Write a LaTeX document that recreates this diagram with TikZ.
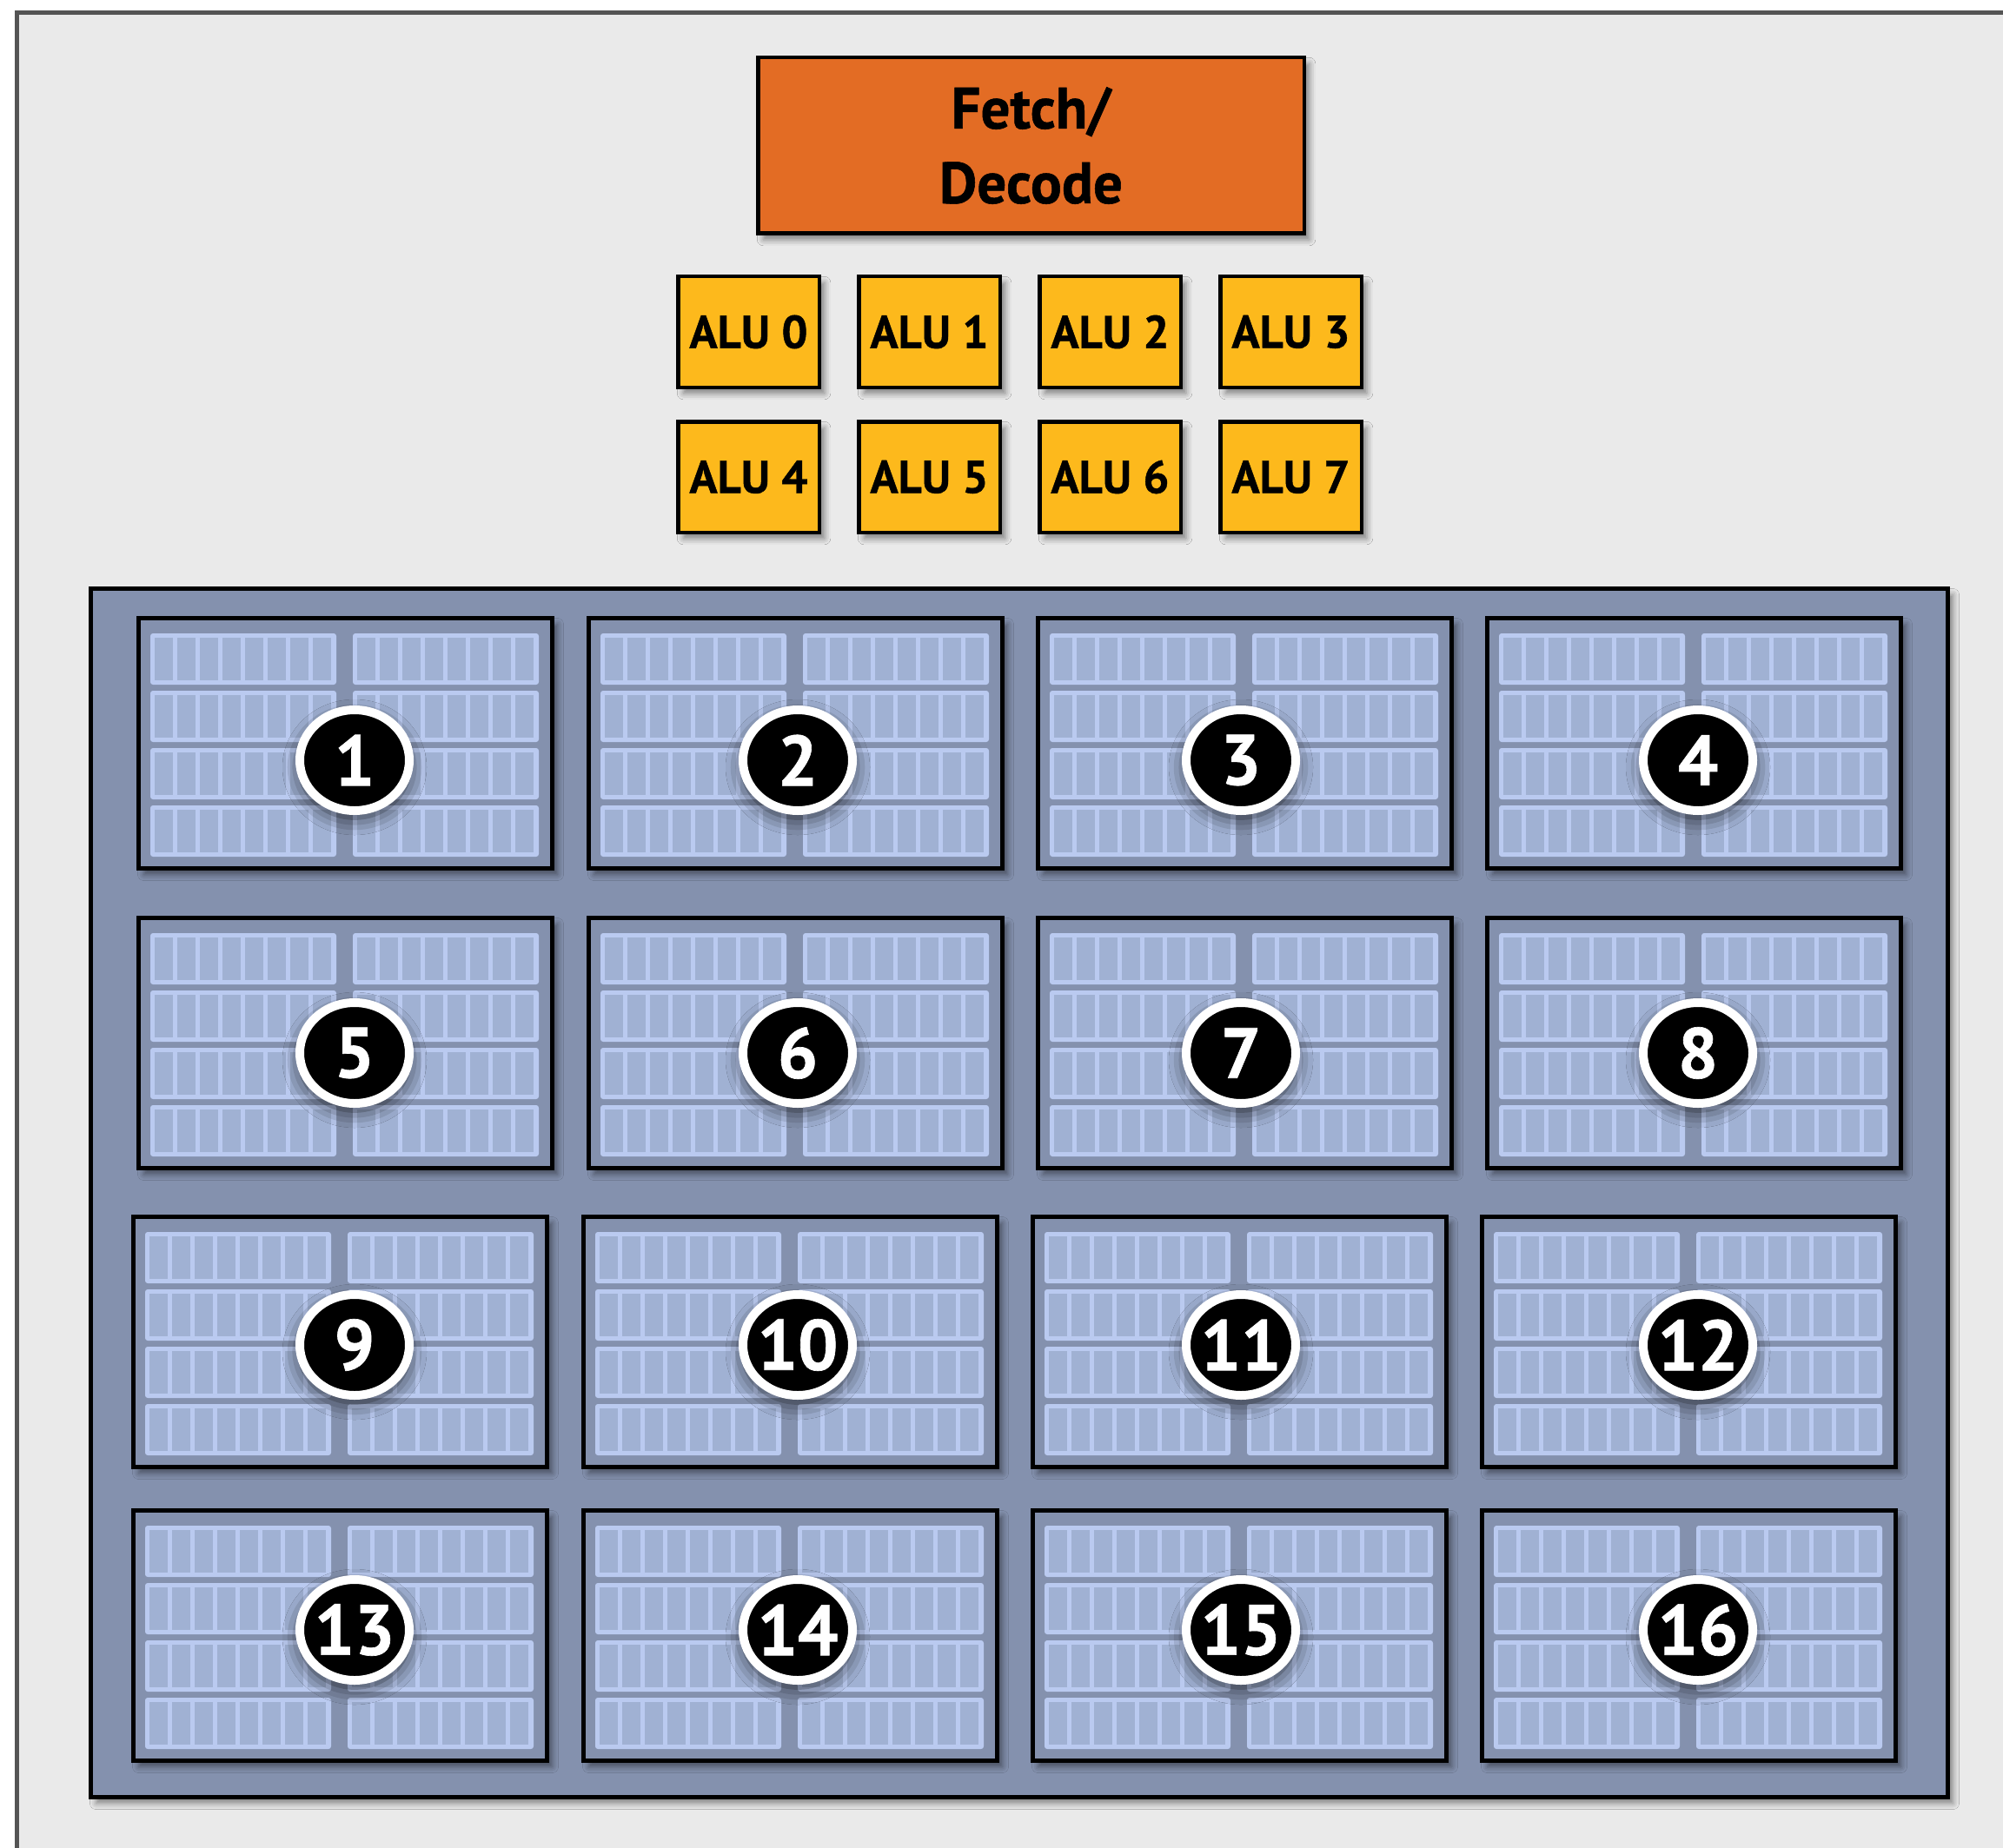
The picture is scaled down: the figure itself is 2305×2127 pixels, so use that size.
\documentclass[tikz,border=0pt]{standalone}
\usepackage{fontspec}
\setmainfont{PT Sans}[BoldFeatures={FakeBold=0.8}]
\usetikzlibrary{shapes.geometric,shadows.blur}
\definecolor{bgc}{HTML}{EAEAEA}
\definecolor{framec}{HTML}{545454}
\definecolor{orangec}{HTML}{E36C24}
\definecolor{aluc}{HTML}{FDB91C}
\definecolor{panelc}{HTML}{8491AE}
\definecolor{grpc}{HTML}{BACAF0}
\definecolor{cellc}{HTML}{A0B1D3}
\begin{document}
\begin{tikzpicture}[x=1pt,y=-1pt,
  shad/.style={blur shadow={shadow xshift=6pt,shadow yshift=-7pt,shadow blur radius=7pt,shadow opacity=45}},
  fetchbox/.style={draw=black,line width=4.5pt,fill=orangec,minimum width=628.5pt,minimum height=202.5pt,inner sep=0pt,align=center,font=\fontsize{67}{86}\selectfont\bfseries,shad},
  alubox/.style={draw=black,line width=4.5pt,fill=aluc,minimum width=162.5pt,minimum height=127.5pt,inner sep=0pt,font=\fontsize{53}{60}\selectfont\bfseries,shad},
  panelbox/.style={draw=black,line width=5pt,fill=panelc,minimum width=2137pt,minimum height=1391pt,inner sep=0pt,shad},
  blockbox/.style={draw=black,line width=5.5pt,fill=panelc,minimum width=476pt,minimum height=288pt,inner sep=0pt,shad},
  numdisc/.style={ellipse,draw=white,line width=10pt,fill=black,minimum width=126pt,minimum height=116pt,inner sep=0pt,text=white,font=\fontsize{82}{82}\selectfont\bfseries,
    blur shadow={shadow xshift=0pt,shadow yshift=-8pt,shadow blur radius=20pt,shadow opacity=75}}
]
\useasboundingbox (0,0) rectangle (2305,2127);
\fill[white] (0,0) rectangle (2305,2127);
\draw[framec,line width=5pt,fill=bgc] (19.5,14.5) rectangle (2400,2300);

% Fetch / Decode
\node[fetchbox] (fetch) at (1186.5,167.5) {Fetch/\\Decode};

% ALUs
\foreach \i/\x/\y in {0/778/316,1/986/316,2/1194/316,3/1402/316,4/778/483,5/986/483,6/1194/483,7/1402/483} {
  \node[alubox] (alu\i) at (\x+83.5,\y+66) {ALU \i};
}

% Context storage panel
\node[panelbox] (panel) at (1173,1373) {};

\foreach \r/\T/\L/\cy in {0/709/157/875, 1/1054/157/1212, 2/1398/151/1548, 3/1736/151/1876} {
  \foreach \c/\dx/\cx in {1/0/408, 2/518/918, 3/1035/1428, 4/1552/1954} {
    \pgfmathtruncatemacro{\n}{\r*4+\c}
    \pgfmathsetmacro{\bl}{\L+\dx}
    \node[blockbox] (ctx\n) at (\bl+240.5,\T+146.5) {};
    \foreach \gx in {16,249} {
      \foreach \gy in {20,86,152,218} {
        \fill[grpc,rounded corners=3pt] (\bl+\gx,\T+\gy) rectangle ++(214,59);
        \foreach \k in {0,...,7} {
          \fill[cellc] (\bl+\gx+5+26*\k,\T+\gy+5) rectangle ++(21,49);
        }
      }
    }
    \node[numdisc] (num\n) at (\cx,\cy) {\makebox[0pt]{\n}};
  }
}
\end{tikzpicture}
\end{document}
